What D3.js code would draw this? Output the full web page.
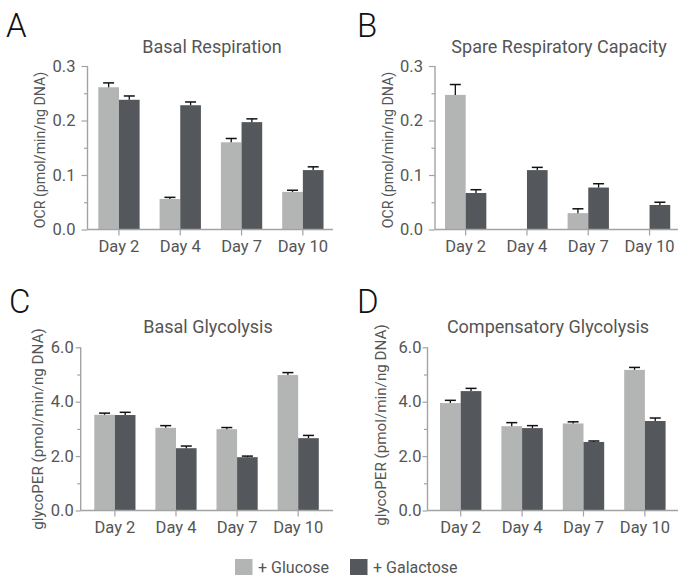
<!DOCTYPE html>
<html>
<head>
<meta charset="utf-8">
<script src="https://cdn.jsdelivr.net/npm/d3@7"></script>
<style>
  html, body { margin: 0; padding: 0; background: #fff; }
  svg { display: block; font-family: Roboto, "Noto Sans", sans-serif; }
</style>
</head>
<body>
<svg id="chart" width="678" height="575"></svg>
<script>
// ---- data ----
const days = ["Day 2", "Day 4", "Day 7", "Day 10"];
const seriesNames = ["+ Glucose", "+ Galactose"];

const basalRespGlucose     = [0.261, 0.056, 0.160, 0.069];
const basalRespGlucoseErr  = [0.008, 0.003, 0.007, 0.003];
const basalRespGalactose   = [0.238, 0.228, 0.197, 0.109];
const basalRespGalactoseErr= [0.007, 0.006, 0.006, 0.006];

const spareGlucose         = [0.247, 0, 0.030, 0];
const spareGlucoseErr      = [0.019, 0, 0.008, 0];
const spareGalactose       = [0.067, 0.109, 0.077, 0.045];
const spareGalactoseErr    = [0.006, 0.005, 0.007, 0.005];

const basalGlyGlucose      = [3.52, 3.04, 2.99, 4.98];
const basalGlyGlucoseErr   = [0.06, 0.08, 0.06, 0.09];
const basalGlyGalactose    = [3.51, 2.29, 1.96, 2.66];
const basalGlyGalactoseErr = [0.10, 0.08, 0.04, 0.10];

const compGlyGlucose       = [3.95, 3.10, 3.20, 5.17];
const compGlyGlucoseErr    = [0.10, 0.13, 0.06, 0.09];
const compGlyGalactose     = [4.39, 3.03, 2.52, 3.29];
const compGlyGalactoseErr  = [0.10, 0.09, 0.035, 0.11];

const ocrTicks = [0, 0.1, 0.2, 0.3];
const ocrMinor = [0.05, 0.15, 0.25];
const glyTicks = [0, 2, 4, 6];
const glyMinor = [1, 3, 5];

// ---- style ----
const colGlucose = "#b3b4b4";
const colGalactose = "#54575b";
const axisCol = "#a3a3a3";
const textCol = "#555555";

const svg = d3.select("#chart");

const panels = [
  { letter: "A", title: "Basal Respiration", ylabel: "OCR (pmol/min/ng DNA)",
    g: basalRespGlucose, ge: basalRespGlucoseErr, a: basalRespGalactose, ae: basalRespGalactoseErr,
    max: 0.3, ticks: ocrTicks, minor: ocrMinor, fmt: d3.format(".1f"),
    ax: 87.5, y0: 229.5, y1: 66, xEnd: 333, bandStart: 98.3, step: 61.3, tSize: 6, tPad: 6,
    lx: 6, ly: 37, tx: 212, ty: 52.5, labX: 45, labY: 150, labSize: 14.2 },
  { letter: "B", title: "Spare Respiratory Capacity", ylabel: "OCR (pmol/min/ng DNA)",
    g: spareGlucose, ge: spareGlucoseErr, a: spareGalactose, ae: spareGalactoseErr,
    max: 0.3, ticks: ocrTicks, minor: ocrMinor, fmt: d3.format(".1f"),
    ax: 435, y0: 229.5, y1: 66, xEnd: 680, bandStart: 445, step: 61.3, tSize: 6, tPad: 6,
    lx: 357, ly: 37, tx: 559, ty: 52.5, labX: 393, labY: 150, labSize: 14.2 },
  { letter: "C", title: "Basal Glycolysis", ylabel: "glycoPER (pmol/min/ng DNA)",
    g: basalGlyGlucose, ge: basalGlyGlucoseErr, a: basalGlyGalactose, ae: basalGlyGalactoseErr,
    max: 6, ticks: glyTicks, minor: glyMinor, fmt: d3.format(".1f"),
    ax: 80.7, y0: 510.5, y1: 347.3, xEnd: 333, bandStart: 94.3, step: 61.1, tSize: 5, tPad: 2,
    lx: 9, ly: 313, tx: 208, ty: 332.5, labX: 43, labY: 429, labSize: 15.2 },
  { letter: "D", title: "Compensatory Glycolysis", ylabel: "glycoPER (pmol/min/ng DNA)",
    g: compGlyGlucose, ge: compGlyGlucoseErr, a: compGlyGalactose, ae: compGlyGalactoseErr,
    max: 6, ticks: glyTicks, minor: glyMinor, fmt: d3.format(".1f"),
    ax: 427.5, y0: 510.5, y1: 347.3, xEnd: 680, bandStart: 440, step: 61.4, tSize: 5, tPad: 1,
    lx: 357, ly: 313, tx: 548, ty: 333, labX: 386, labY: 425, labSize: 15.2 }
];

const barFrac = 0.674; // fraction of step covered by pair of bars

panels.forEach(p => {
  const bw = p.step * barFrac;
  const x = d3.scaleBand().domain(days)
    .range([p.bandStart, p.bandStart + p.step * (days.length - 1) + bw])
    .paddingInner(1 - barFrac).paddingOuter(0);
  const y = d3.scaleLinear().domain([0, p.max]).range([p.y0, p.y1]);
  const g = svg.append("g");

  // panel letter
  g.append("text").attr("x", p.lx).attr("y", p.ly)
    .attr("font-size", 33).attr("font-weight", 300).attr("fill", "#111")
    .text(p.letter);
  // title
  g.append("text").attr("x", p.tx).attr("y", p.ty).attr("text-anchor", "middle")
    .attr("font-size", 18).attr("fill", textCol).text(p.title);
  // y label
  g.append("text")
    .attr("transform", `translate(${p.labX},${p.labY}) rotate(-90)`)
    .attr("text-anchor", "middle").attr("font-size", p.labSize).attr("fill", textCol)
    .text(p.ylabel);

  // bars
  const b = x.bandwidth() / 2;
  const series = [
    { vals: p.g, errs: p.ge, col: colGlucose, off: 0 },
    { vals: p.a, errs: p.ae, col: colGalactose, off: b }
  ];
  series.forEach(s => {
    const data = days.map((d, i) => ({ d, v: s.vals[i], e: s.errs[i] })).filter(o => o.v > 0);
    g.selectAll(null).data(data).enter().append("rect")
      .attr("x", o => x(o.d) + s.off)
      .attr("width", b)
      .attr("y", o => y(o.v))
      .attr("height", o => y(0) - y(o.v))
      .attr("fill", s.col);
    // error bars
    const cap = 5.5;
    const eg = g.selectAll(null).data(data.filter(o => o.e > 0)).enter().append("g");
    eg.append("line")
      .attr("x1", o => x(o.d) + s.off + b / 2).attr("x2", o => x(o.d) + s.off + b / 2)
      .attr("y1", o => y(o.v)).attr("y2", o => y(o.v + o.e))
      .attr("stroke", "#111").attr("stroke-width", 1.3);
    eg.append("line")
      .attr("x1", o => x(o.d) + s.off + b / 2 - cap).attr("x2", o => x(o.d) + s.off + b / 2 + cap)
      .attr("y1", o => y(o.v + o.e)).attr("y2", o => y(o.v + o.e))
      .attr("stroke", "#111").attr("stroke-width", 1.5);
  });

  // y axis
  const yAxis = g.append("g").attr("transform", `translate(${p.ax},0)`)
    .call(d3.axisLeft(y).tickValues(p.ticks).tickFormat(p.fmt).tickSize(p.tSize).tickPadding(p.tPad));
  yAxis.select(".domain").attr("stroke", axisCol).attr("stroke-width", 1.4)
    .attr("d", `M0,${p.y1}V${p.y0}`);
  yAxis.selectAll(".tick line").attr("stroke", axisCol).attr("stroke-width", 1.2);
  yAxis.selectAll(".tick text").attr("fill", textCol).attr("font-size", 16.5)
    .attr("font-family", "Roboto, sans-serif");
  const yMinor = g.append("g").attr("transform", `translate(${p.ax},0)`)
    .call(d3.axisLeft(y).tickValues(p.minor).tickFormat("").tickSize(3.5));
  yMinor.select(".domain").remove();
  yMinor.selectAll(".tick line").attr("stroke", axisCol).attr("stroke-width", 1.2);

  // x axis
  const xAxis = g.append("g").attr("transform", `translate(0,${p.y0})`)
    .call(d3.axisBottom(x).tickSize(6).tickPadding(5));
  xAxis.select(".domain").attr("stroke", axisCol).attr("stroke-width", 1.4)
    .attr("d", `M${p.ax},0H${p.xEnd}`);
  xAxis.selectAll(".tick line").attr("stroke", axisCol).attr("stroke-width", 1.2);
  xAxis.selectAll(".tick text").attr("fill", textCol).attr("font-size", 16.5)
    .attr("font-family", "Roboto, sans-serif");
});

// legend
const legend = svg.append("g");
const legItems = [
  { name: seriesNames[0], col: colGlucose, x: 235 },
  { name: seriesNames[1], col: colGalactose, x: 350 }
];
legItems.forEach(l => {
  legend.append("rect").attr("x", l.x).attr("y", 559).attr("width", 17.5).attr("height", 16)
    .attr("fill", l.col);
  legend.append("text").attr("x", l.x + 23).attr("y", 572.5)
    .attr("font-size", 16).attr("fill", textCol).text(l.name);
});
</script>
</body>
</html>
